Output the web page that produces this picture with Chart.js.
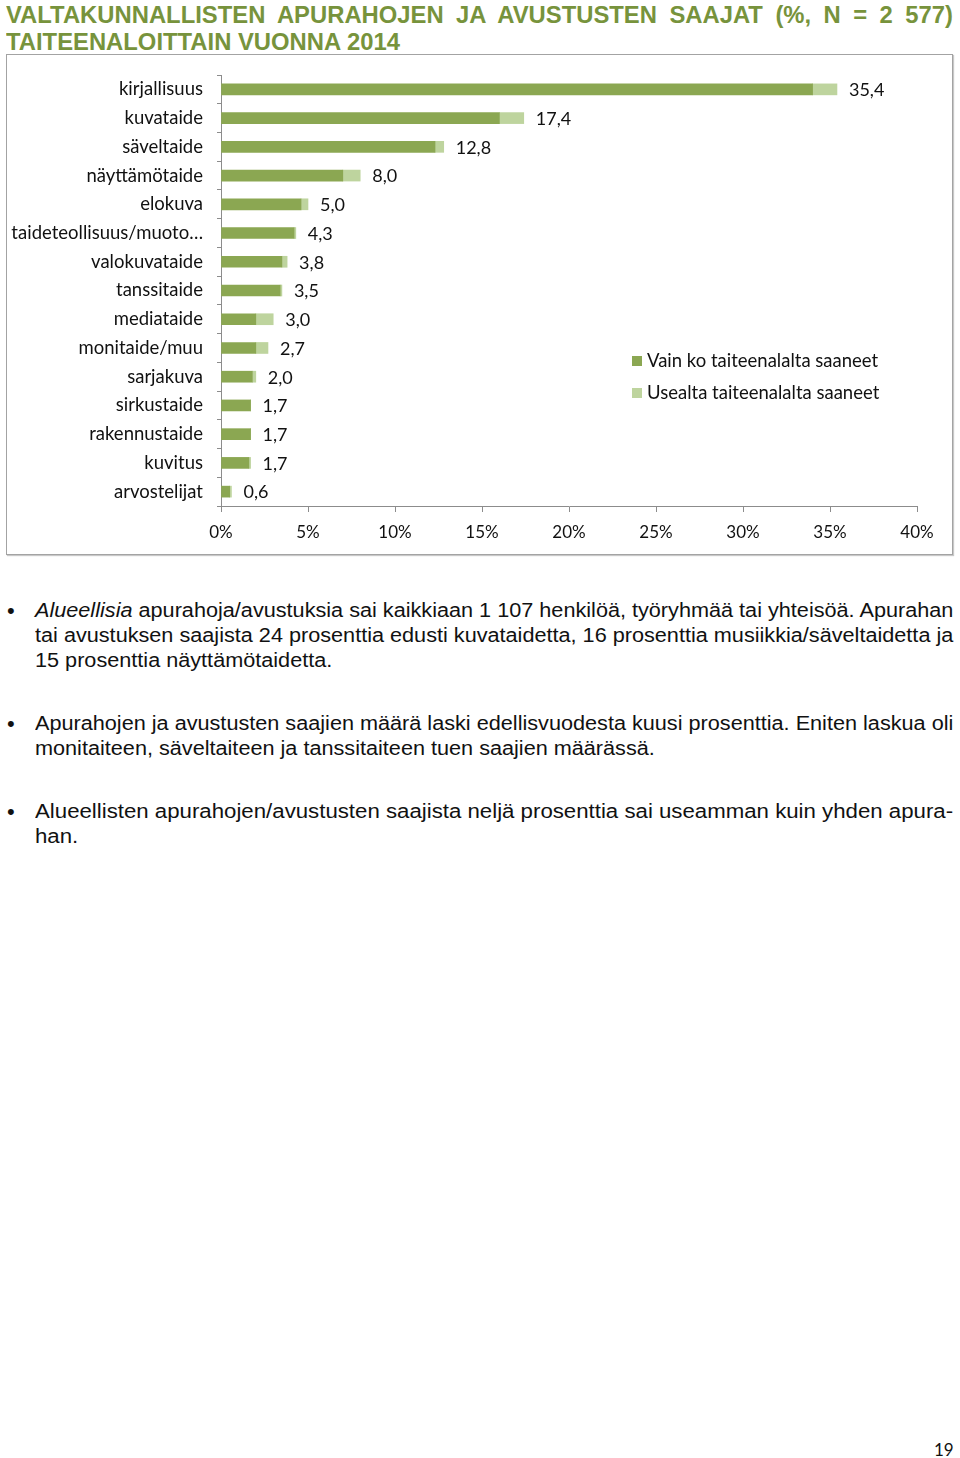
<!DOCTYPE html>
<html>
<head>
<meta charset="utf-8">
<script src="https://cdn.jsdelivr.net/npm/chart.js@4.4.1/dist/chart.umd.min.js"></script>
<style>
  html, body { margin: 0; padding: 0; background: #fff; }
  body { width: 960px; height: 1458px; position: relative; overflow: hidden; }
  .tl { position: absolute; left: 6px; font-family: "Liberation Sans", Arial, sans-serif; font-weight: bold;
        font-size: 24px; color: #77933C; white-space: nowrap; transform-origin: 0 50%; line-height: 27px; }
  #box { position: absolute; left: 6px; top: 54px; width: 945px; height: 499px; border: 1px solid #a3a3a3;
         box-shadow: 1px 1px 1px #c8c8c8; }
  #chartWrap { position: absolute; left: 0; top: 0; width: 945px; height: 499px; }
  .leg { position: absolute; font-family: Lato, sans-serif; font-size: 18.5px; color: #111; white-space: nowrap; }
  .leg i { position: absolute; left: -15px; top: 7px; width: 10px; height: 10px; }
  .ln { position: absolute; left: 35px; font-family: "Liberation Sans", Arial, sans-serif; font-size: 20px;
        line-height: 25px; color: #111; white-space: nowrap; transform-origin: 0 50%; }
  .bul { position: absolute; left: 7px; font-family: "Liberation Sans", Arial, sans-serif; font-size: 22px; line-height: 25px; color:#111; }
  #pg { position: absolute; left: 934px; top: 1439px; font-family: Lato, sans-serif; font-size: 17px; color: #111; }
</style>
</head>
<body>
<div class="tl" id="t1" style="top:1px;">VALTAKUNNALLISTEN APURAHOJEN JA AVUSTUSTEN SAAJAT (%, N = 2 577)</div>
<div class="tl" id="t2" style="top:28px;">TAITEENALOITTAIN VUONNA 2014</div>

<div id="box">
  <div id="chartWrap"><canvas id="c" width="945" height="499"></canvas></div>
  <div class="leg" style="left:640px; top:294px;"><i style="background:#8BA752"></i>Vain ko taiteenalalta saaneet</div>
  <div class="leg" style="left:640px; top:326px;"><i style="background:#BED49E"></i>Usealta taiteenalalta saaneet</div>
</div>

<div class="bul" style="top:598px;">•</div>
<div class="ln j" data-p="1" data-w="918" style="top:598px;"><i>Alueellisia</i> apurahoja/avustuksia sai kaikkiaan 1 107 henkilöä, työryhmää tai yhteisöä. Apurahan</div>
<div class="ln j" data-p="1" data-w="918" style="top:623px;">tai avustuksen saajista 24 prosenttia edusti kuvataidetta, 16 prosenttia musiikkia/säveltaidetta ja</div>
<div class="ln" data-p="1" style="top:648px;">15 prosenttia näyttämötaidetta.</div>

<div class="bul" style="top:711px;">•</div>
<div class="ln j" data-p="2" data-w="918" style="top:711px;">Apurahojen ja avustusten saajien määrä laski edellisvuodesta kuusi prosenttia. Eniten laskua oli</div>
<div class="ln" data-p="2" style="top:736px;">monitaiteen, säveltaiteen ja tanssitaiteen tuen saajien määrässä.</div>

<div class="bul" style="top:799px;">•</div>
<div class="ln j" data-p="3" data-w="918" style="top:799px;">Alueellisten apurahojen/avustusten saajista neljä prosenttia sai useamman kuin yhden apura-</div>
<div class="ln" data-p="3" style="top:824px;">han.</div>

<div id="pg">19</div>

<script>
// ---- data ----
const categories = ['kirjallisuus', 'kuvataide', 'säveltaide', 'näyttämötaide', 'elokuva',
  'taideteollisuus/muoto…', 'valokuvataide', 'tanssitaide', 'mediataide', 'monitaide/muu',
  'sarjakuva', 'sirkustaide', 'rakennustaide', 'kuvitus', 'arvostelijat'];
const onlyOneField = [34.0, 16.0, 12.3, 7.0, 4.6, 4.2, 3.5, 3.4, 2.0, 2.0, 1.8, 1.7, 1.7, 1.6, 0.5];
const severalFields = [1.4, 1.4, 0.5, 1.0, 0.4, 0.1, 0.3, 0.1, 1.0, 0.7, 0.2, 0.0, 0.0, 0.1, 0.1];
const totals = [35.4, 17.4, 12.8, 8.0, 5.0, 4.3, 3.8, 3.5, 3.0, 2.7, 2.0, 1.7, 1.7, 1.7, 0.6];
const seriesNames = ['Vain ko taiteenalalta saaneet', 'Usealta taiteenalalta saaneet'];
const xTickValues = [0, 5, 10, 15, 20, 25, 30, 35, 40];

// ---- text fitting ----
(function fitText() {
  const t2 = document.getElementById('t2');
  const s = 394 / t2.scrollWidth;
  t2.style.transform = 'scaleX(' + s + ')';
  const t1 = document.getElementById('t1');
  t1.style.width = (947 / s) + 'px';
  t1.style.whiteSpace = 'normal';
  t1.style.textAlign = 'justify';
  t1.style.textAlignLast = 'justify';
  t1.style.height = '27px';
  t1.style.overflow = 'hidden';
  t1.style.transform = 'scaleX(' + s + ')';

  const scales = {};
  document.querySelectorAll('.ln.j').forEach(el => {
    const sc = parseFloat(el.dataset.w) / el.scrollWidth;
    el.style.transform = 'scaleX(' + sc + ')';
    scales[el.dataset.p] = scales[el.dataset.p] ? (scales[el.dataset.p] + sc) / 2 : sc;
  });
  document.querySelectorAll('.ln:not(.j)').forEach(el => {
    el.style.transform = 'scaleX(' + scales[el.dataset.p] + ')';
  });
})();

// ---- chart ----
const fmt = v => v.toFixed(1).replace('.', ',');

const totalLabels = {
  id: 'totalLabels',
  afterDatasetsDraw(chart) {
    const ctx = chart.ctx;
    const xs = chart.scales.x, ys = chart.scales.y;
    ctx.save();
    ctx.font = '18px Lato, sans-serif';
    ctx.fillStyle = '#111';
    ctx.textAlign = 'left';
    ctx.textBaseline = 'middle';
    totals.forEach((t, i) => {
      ctx.fillText(fmt(t), xs.getPixelForValue(t) + 12, ys.getPixelForValue(i) + 1);
    });
    ctx.restore();
  }
};

new Chart(document.getElementById('c'), {
  type: 'bar',
  data: {
    labels: categories,
    datasets: [
      { label: seriesNames[0], data: onlyOneField, backgroundColor: '#8BA752', barThickness: 11 },
      { label: seriesNames[1], data: severalFields, backgroundColor: '#BED49E', barThickness: 11 }
    ]
  },
  options: {
    indexAxis: 'y',
    responsive: false,
    animation: false,
    devicePixelRatio: 1,
    layout: { padding: { left: 0, right: 35, top: 20, bottom: 0 } },
    plugins: { legend: { display: false }, tooltip: { enabled: false } },
    scales: {
      x: {
        stacked: true, min: 0, max: 40,
        afterBuildTicks: s => { s.ticks = xTickValues.map(v => ({ value: v })); },
        afterFit: s => { s.height = 48; },
        grid: { drawOnChartArea: false, drawTicks: true, tickLength: 6, color: '#8c8c8c' },
        border: { display: true, color: '#8c8c8c', width: 1 },
        ticks: { callback: v => v + '%', color: '#111', font: { family: 'Lato', size: 17 }, padding: 10, maxRotation: 0 }
      },
      y: {
        stacked: true,
        afterFit: s => { s.width = 214; s.paddingTop = 0; s.paddingBottom = 0; },
        grid: { drawOnChartArea: false, drawTicks: true, tickLength: 4, color: '#8c8c8c', offset: true },
        border: { display: true, color: '#8c8c8c', width: 1 },
        ticks: { color: '#111', font: { family: 'Lato', size: 18.5 }, padding: 14, autoSkip: false }
      }
    }
  },
  plugins: [totalLabels]
});
</script>
</body>
</html>
